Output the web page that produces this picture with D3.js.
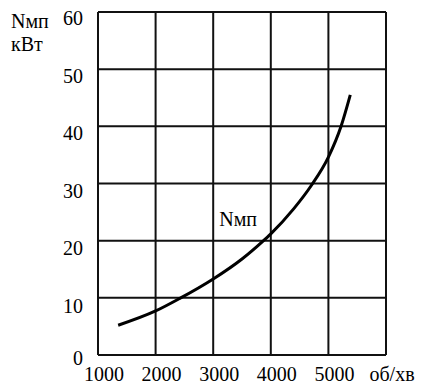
<!DOCTYPE html>
<html><head><meta charset="utf-8"><script src="https://cdn.jsdelivr.net/npm/d3@7"></script></head>
<body style="margin:0">
<svg id="s" width="422" height="385"></svg>
<script>
// rpm vs power
const rpm = [1350, 2000, 2420, 3000, 3500, 3850, 4000, 4400, 4700, 5000, 5220, 5380];
const power = [5.2, 7.7, 9.9, 13.3, 16.8, 19.8, 21.2, 25.6, 29.6, 34.6, 40, 45.5];
const xTicks = [1000, 2000, 3000, 4000, 5000, 6000];
const yTicks = [0, 10, 20, 30, 40, 50, 60];

const svg = d3.select("#s");
const x = d3.scaleLinear().domain([1000, 6000]).range([98, 386]);
const y = d3.scaleLinear().domain([0, 60]).range([355, 12]);

// labels first: x ticks, y ticks, titles
const labels = xTicks.map(d => ({ t: d === 6000 ? "об/хв" : String(d), x: x(d) + 6, y: y(0) + 26, a: "middle" }))
  .concat(yTicks.map(d => ({ t: String(d), x: x(1000) - 15, y: y(d) + (d === 0 ? 10 : 15 - d / 30), a: "end" })))
  .concat([
    { t: "Nмп", x: 11, y: 28, a: "start" },
    { t: "кВт", x: 11, y: 51, a: "start" },
    { t: "Nмп", x: x(3000) + 6, y: y(22.5), a: "start" }
  ]);
svg.selectAll("text").data(labels).enter().append("text")
  .attr("x", d => d.x).attr("y", d => d.y)
  .attr("text-anchor", d => d.a)
  .attr("font-family", "Times")
  .style("font-family", "Times, 'Liberation Serif', FreeSerif, serif")
  .attr("font-size", 20)
  .text(d => d.t);

// grid
svg.selectAll("line.vx").data(xTicks).enter().append("line")
  .attr("x1", d => x(d)).attr("x2", d => x(d))
  .attr("y1", y(60)).attr("y2", y(0))
  .attr("stroke", "#111").attr("stroke-width", 2);
svg.selectAll("line.hy").data(yTicks).enter().append("line")
  .attr("x1", x(1000)).attr("x2", x(6000))
  .attr("y1", d => y(d)).attr("y2", d => y(d))
  .attr("stroke", "#111").attr("stroke-width", 2);

// curve
const line = d3.line()
  .x((d, i) => x(rpm[i]))
  .y(d => y(d))
  .curve(d3.curveMonotoneX);
svg.append("path")
  .datum(power)
  .attr("d", line)
  .attr("fill", "none")
  .attr("stroke", "#000")
  .attr("stroke-width", 3);
</script></body></html>
